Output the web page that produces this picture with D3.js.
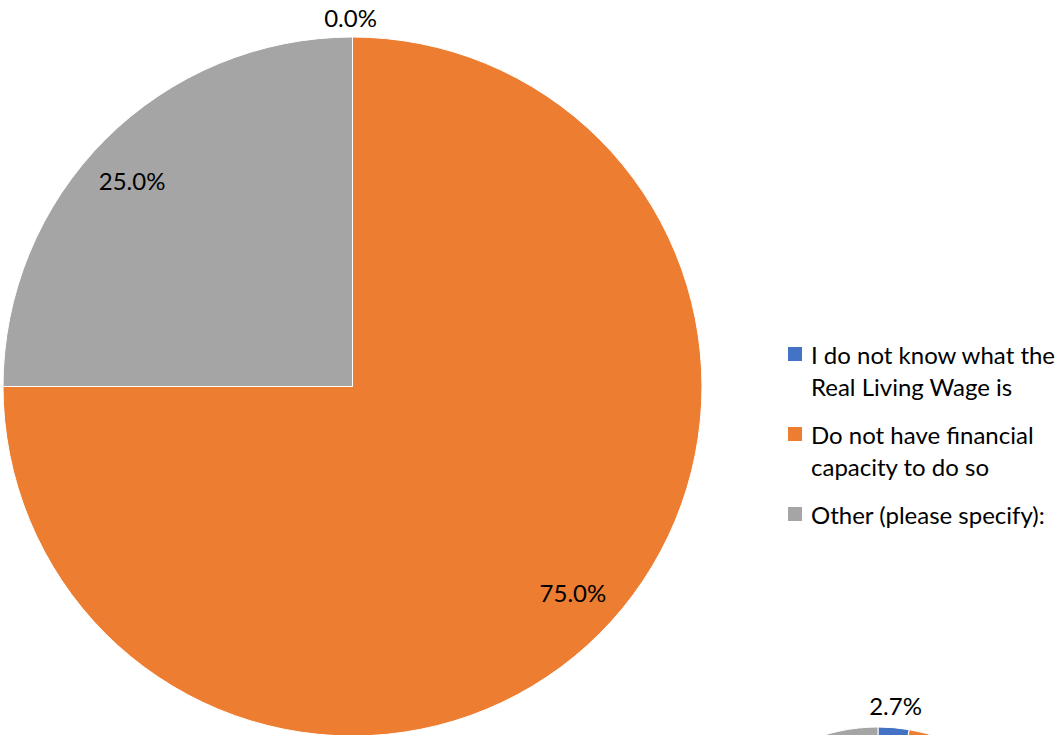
<!DOCTYPE html>
<html>
<head>
<meta charset="utf-8">
<script src="https://cdn.jsdelivr.net/npm/d3@7"></script>
<style>
  html, body { margin: 0; padding: 0; background: #fff; }
  svg { display: block; }
  text { font-family: Lato, "Open Sans", sans-serif; fill: #000; }
</style>
</head>
<body>
<svg id="chart" width="1063" height="735"></svg>
<script>
// Data
const categories = [
  "I do not know what the Real Living Wage is",
  "Do not have financial capacity to do so",
  "Other (please specify):"
];
const legendLines = [
  ["I do not know what the", "Real Living Wage is"],
  ["Do not have financial", "capacity to do so"],
  ["Other (please specify):"]
];
const mainValues = [0.0, 75.0, 25.0];
const secondValues = [2.7, 70.3, 27.0];
const colors = ["#4472C4", "#ED7D31", "#A5A5A5"];

const svg = d3.select("#chart");
const fontSize = 24;

const color = d3.scaleOrdinal().domain(categories).range(colors);
const pie = d3.pie().sort(null).value(d => d.v);

function toData(vals) {
  return vals.map((v, i) => ({ cat: categories[i], v }));
}

// Main pie
const mainR = 349.5;
const mainC = [352.5, 386.5];
const gMain = svg.append("g").attr("transform", `translate(${mainC[0]},${mainC[1]})`);
const arcMain = d3.arc().innerRadius(0).outerRadius(mainR);
const mainArcs = pie(toData(mainValues));
gMain.selectAll("path").data(mainArcs).join("path")
  .attr("d", arcMain)
  .attr("fill", d => color(d.data.cat))
  .attr("stroke", "#fff").attr("stroke-width", 1);

gMain.selectAll("text.lbl").data(mainArcs).join("text")
  .attr("class", "lbl")
  .attr("font-size", fontSize)
  .attr("text-anchor", "middle")
  .attr("dominant-baseline", "central")
  .attr("transform", d => {
    const a = (d.startAngle + d.endAngle) / 2;
    if (d.data.v === 0) {
      const rr = mainR + 20;
      return `translate(${Math.sin(a) * rr - 2},${-Math.cos(a) * rr})`;
    }
    const x = Math.sin(a) * mainR * 0.892;
    const y = -Math.cos(a) * mainR * 0.835;
    return `translate(${x},${y})`;
  })
  .text(d => d.data.v.toFixed(1) + "%");

// Second pie (partially visible at bottom right)
const secR = 185;
const secC = [878, 727 + secR];
const gSec = svg.append("g").attr("transform", `translate(${secC[0]},${secC[1]})`);
const arcSec = d3.arc().innerRadius(0).outerRadius(secR);
const secArcs = pie(toData(secondValues));
gSec.selectAll("path").data(secArcs).join("path")
  .attr("d", arcSec)
  .attr("fill", d => color(d.data.cat))
  .attr("stroke", "#fff").attr("stroke-width", 1);
gSec.selectAll("text.lbl").data(secArcs.filter(d => d.data.v < 5)).join("text")
  .attr("class", "lbl")
  .attr("font-size", fontSize)
  .attr("text-anchor", "middle")
  .attr("dominant-baseline", "central")
  .attr("transform", d => {
    const a = (d.startAngle + d.endAngle) / 2;
    const rr = secR + 22;
    return `translate(${Math.sin(a) * rr},${-Math.cos(a) * rr})`;
  })
  .text(d => d.data.v.toFixed(1) + "%");

// Legend
const legend = svg.append("g").attr("transform", "translate(788,0)");
const lineH = 32, itemGap = 48;
let y = 354;
legendLines.forEach((lines, i) => {
  const g = legend.append("g");
  g.append("rect").attr("x", 0).attr("y", y - 7).attr("width", 14).attr("height", 14)
    .attr("fill", color(categories[i]));
  lines.forEach((ln, j) => {
    g.append("text").attr("x", 23).attr("y", y + j * lineH)
      .attr("font-size", fontSize)
      .attr("dominant-baseline", "central")
      .text(ln);
  });
  y += (lines.length - 1) * lineH + itemGap;
});
</script>
</body>
</html>
